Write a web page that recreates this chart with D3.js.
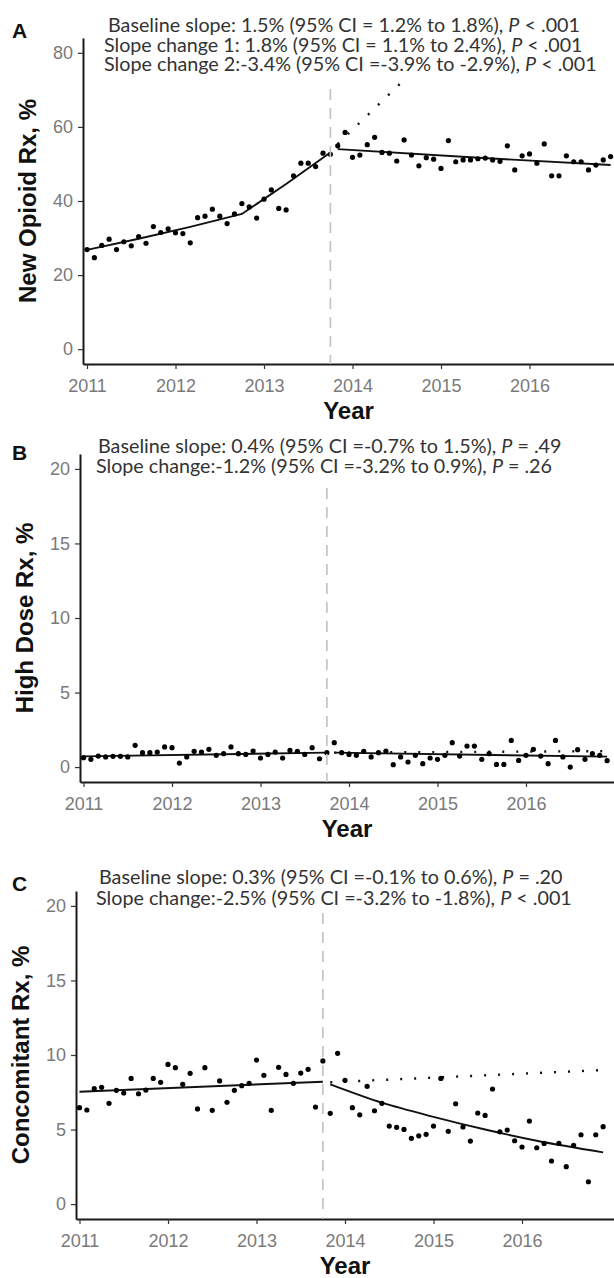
<!DOCTYPE html>
<html>
<head>
<meta charset="utf-8">
<script src="https://cdn.jsdelivr.net/npm/d3@7/dist/d3.min.js"></script>
<style>
    body { margin: 0; background: #fff; }
</style>
</head>
<body>
<script>
// monthly index, 0 = Jan 2011 ... 71 = Dec 2016
var months = d3.range(72);
var yearTicks = [2011, 2012, 2013, 2014, 2015, 2016];
var interventionMonth = 33;

// A - new opioid prescriptions
var newOpioid = [26.9, 24.7, 28.0, 29.7, 26.9, 29.0, 27.9, 30.4, 28.6, 33.1, 31.5, 32.5,
    31.4, 31.2, 28.7, 35.5, 35.9, 37.8, 35.9, 33.9, 36.5, 39.3, 38.4, 35.4,
    40.5, 43.0, 38.0, 37.6, 46.8, 50.2, 50.2, 49.3, 52.9, 52.6, 54.9, 58.5,
    51.8, 52.4, 55.2, 57.2, 53.1, 52.9, 50.8, 56.5, 52.4, 49.5, 51.7, 51.3,
    48.8, 56.3, 50.6, 51.1, 51.1, 51.4, 51.6, 51.1, 50.7, 54.9, 48.4, 52.2,
    52.7, 50.2, 55.4, 46.8, 46.8, 52.2, 50.6, 50.6, 48.4, 49.7, 51.1, 52.0];
var newOpioidPre = [[0, 26.8], [7, 29.8], [14, 33.0], [21, 36.5], [27, 44.6], [33, 53.1]];
var newOpioidPost = [[34, 54.0], [52, 51.8], [71, 49.7]];
var newOpioidCounter = [[34, 55.4], [43, 72.7]];
var newOpioidTicks = [0, 20, 40, 60, 80];
var newOpioidNotes = [
    'Baseline slope: 1.5% (95% CI = 1.2% to 1.8%), |P| < .001',
    'Slope change 1: 1.8% (95% CI = 1.1% to 2.4%), |P| < .001',
    'Slope change 2:-3.4% (95% CI =-3.9% to -2.9%), |P| < .001'
];

// B - high dose prescriptions
var highDose = [0.63, 0.52, 0.74, 0.68, 0.72, 0.72, 0.68, 1.46, 0.97, 0.97, 1.01, 1.35,
    1.30, 0.27, 0.68, 1.06, 1.01, 1.19, 0.79, 0.90, 1.35, 0.90, 0.85, 1.08,
    0.61, 0.85, 1.01, 0.61, 1.12, 1.06, 0.85, 1.30, 0.56, 0.97, 1.64, 0.97,
    0.85, 0.79, 1.06, 0.68, 0.97, 1.08, 0.16, 0.68, 0.34, 0.79, 0.23, 0.61,
    0.52, 0.79, 1.64, 0.74, 1.41, 1.41, 0.52, 0.90, 0.18, 0.18, 1.79, 0.45,
    0.79, 1.19, 0.74, 0.23, 1.79, 0.68, 0.00, 1.17, 0.52, 0.90, 0.79, 0.43];
var highDosePre = [[0, 0.72], [33, 0.97]];
var highDosePost = [[34, 0.97], [71, 0.70]];
var highDoseCounter = [[34, 0.97], [71, 1.07]];
var smallTicks = [0, 5, 10, 15, 20];
var highDoseNotes = [
    'Baseline slope: 0.4% (95% CI =-0.7% to 1.5%), |P| = .49',
    'Slope change:-1.2% (95% CI =-3.2% to 0.9%), |P| = .26'
];

// C - concomitant prescriptions
var concomitant = [6.47, 6.31, 7.74, 7.83, 6.76, 7.63, 7.45, 8.43, 7.40, 7.65, 8.43, 8.17,
    9.37, 9.15, 8.03, 8.77, 6.38, 9.15, 6.29, 8.26, 6.83, 7.63, 7.94, 8.10,
    9.66, 8.64, 6.29, 9.17, 8.70, 8.10, 8.79, 9.04, 6.51, 9.60, 6.09, 10.11,
    8.30, 6.47, 5.99, 7.90, 6.26, 6.76, 5.23, 5.15, 5.01, 4.41, 4.58, 4.68,
    5.23, 8.43, 4.88, 6.73, 5.17, 4.23, 6.11, 5.95, 7.72, 4.85, 4.97, 4.25,
    3.83, 5.57, 3.78, 4.07, 2.89, 4.07, 2.51, 3.94, 4.65, 1.50, 4.65, 5.19];
var concomitantPre = [[0, 7.54], [33, 8.21]];
var concomitantPost = [[34, 8.03], [41, 6.80], [48, 5.85], [55, 5.00], [62, 4.25], [71, 3.47]];
var concomitantCounter = [[34, 8.17], [71, 8.99]];
var concomitantNotes = [
    'Baseline slope: 0.3% (95% CI =-0.1% to 0.6%), |P| = .20',
    'Slope change:-2.5% (95% CI =-3.2% to -1.8%), |P| < .001'
];

var WIDTH = 614;
var HEIGHT = 1278;
var PX_PER_YEAR = 88.5;

window.document.addEventListener('DOMContentLoaded', init, false);

function init() {
    var svg = d3.select('body').append('svg')
        .attr('width', WIDTH)
        .attr('height', HEIGHT)
        .style('display', 'block');

    drawPanel(svg, {
        letter: 'A', letterY: 38,
        values: newOpioid, pre: newOpioidPre, post: newOpioidPost, counter: newOpioidCounter,
        preCurve: d3.curveLinear,
        ticks: newOpioidTicks, yDomain: [-4, 84], top: 38, bottom: 364,
        axisX: 83, x2011: 87, titleX: 36, title: 'New Opioid Rx, %',
        vlineTop: 89, notes: newOpioidNotes,
        noteY: [32, 52, 71], noteX: [[108, 580], [104, 583], [104, 597]]
    });

    drawPanel(svg, {
        letter: 'B', letterY: 460,
        values: highDose, pre: highDosePre, post: highDosePost, counter: highDoseCounter,
        preCurve: d3.curveLinear,
        ticks: smallTicks, yDomain: [-1, 21], top: 454, bottom: 782,
        axisX: 80, x2011: 83.5, titleX: 33, title: 'High Dose Rx, %',
        vlineTop: 488, notes: highDoseNotes,
        noteY: [453, 473], noteX: [[98, 562], [96, 552]]
    });

    drawPanel(svg, {
        letter: 'C', letterY: 891,
        values: concomitant, pre: concomitantPre, post: concomitantPost, counter: concomitantCounter,
        preCurve: d3.curveLinear,
        ticks: smallTicks, yDomain: [-1, 21], top: 891, bottom: 1219,
        axisX: 76, x2011: 79.5, titleX: 29, title: 'Concomitant Rx, %',
        vlineTop: 913, notes: concomitantNotes,
        noteY: [884, 905], noteX: [[99, 563], [96, 572]]
    });
}

function monthToYear(m) {
    return 2011 + m / 12;
}

function drawPanel(svg, p) {
    var x = d3.scaleLinear()
        .domain([2011 - (p.x2011 - p.axisX) / PX_PER_YEAR, 2011 + (WIDTH - p.x2011) / PX_PER_YEAR])
        .range([p.axisX, WIDTH]);
    var y = d3.scaleLinear()
        .domain(p.yDomain)
        .range([p.bottom, p.top]);

    var g = svg.append('g');

    putAxes(g, p, x, y);

    var line = d3.line()
        .x((d) => x(monthToYear(d[0])))
        .y((d) => y(d[1]));

    // counterfactual trend
    g.append('path')
        .attr('fill', 'none')
        .attr('stroke', '#111')
        .attr('stroke-width', 2.4)
        .attr('stroke-dasharray', '2,12')
        .attr('d', line.curve(d3.curveLinear)(p.counter));

    g.append('path')
        .attr('fill', 'none')
        .attr('stroke', '#111')
        .attr('stroke-width', 1.9)
        .attr('d', line.curve(p.preCurve)(p.pre));

    g.append('path')
        .attr('fill', 'none')
        .attr('stroke', '#111')
        .attr('stroke-width', 1.9)
        .attr('d', line.curve(d3.curveMonotoneX)(p.post));

    g.selectAll('.pt')
        .data(months)
        .enter()
            .append('circle')
            .attr('class', 'pt')
            .attr('cx', (m) => x(monthToYear(m)))
            .attr('cy', (m) => y(p.values[m]))
            .attr('r', 2.6)
            .attr('fill', '#000');

    // intervention line
    g.append('line')
        .attr('x1', x(monthToYear(interventionMonth)))
        .attr('x2', x(monthToYear(interventionMonth)))
        .attr('y1', p.vlineTop)
        .attr('y2', p.bottom)
        .attr('stroke', '#c4c4c4')
        .attr('stroke-width', 1.7)
        .attr('stroke-dasharray', '11,8');

    putNotes(g, p);

    g.append('text')
        .attr('x', 12)
        .attr('y', p.letterY)
        .attr('font-family', 'Liberation Sans, Arial, sans-serif')
        .attr('font-weight', 'bold')
        .attr('font-size', 21)
        .attr('fill', '#111')
        .text(p.letter);
}

function putAxes(g, p, x, y) {
    var xAxis = g.append('g')
        .attr('transform', `translate(0,${p.bottom})`)
        .call(d3.axisBottom(x)
            .tickValues(yearTicks)
            .tickFormat(d3.format('d'))
            .tickSize(5)
            .tickSizeOuter(0)
            .tickPadding(10));

    var yAxis = g.append('g')
        .attr('transform', `translate(${p.axisX},0)`)
        .call(d3.axisLeft(y)
            .tickValues(p.ticks)
            .tickSize(5)
            .tickSizeOuter(0)
            .tickPadding(5));

    [xAxis, yAxis].forEach((a) => {
        a.select('.domain').attr('stroke', '#1a1a1a').attr('stroke-width', 2);
        a.selectAll('.tick line').attr('stroke', '#333').attr('stroke-width', 1.2);
        a.selectAll('.tick text')
            .attr('fill', '#7a7a7a')
            .attr('font-family', 'Liberation Sans, Arial, sans-serif')
            .attr('font-size', 18);
    });

    g.append('text')
        .attr('x', (p.axisX + WIDTH) / 2)
        .attr('y', p.bottom + 55)
        .attr('text-anchor', 'middle')
        .attr('font-family', 'Liberation Sans, Arial, sans-serif')
        .attr('font-weight', 'bold')
        .attr('font-size', 24)
        .attr('fill', '#111')
        .text('Year');

    g.append('text')
        .attr('transform', `translate(${p.titleX},${(p.top + p.bottom) / 2}) rotate(-90)`)
        .attr('text-anchor', 'middle')
        .attr('font-family', 'Liberation Sans, Arial, sans-serif')
        .attr('font-weight', 'bold')
        .attr('font-size', 24)
        .attr('fill', '#111')
        .text(p.title);
}

function putNotes(g, p) {
    p.notes.forEach((note, i) => {
        var parts = note.split('|');
        var t = g.append('text')
            .attr('x', p.noteX[i][0])
            .attr('y', p.noteY[i])
            .attr('font-family', 'Lato, Open Sans, sans-serif')
            .attr('font-size', 18)
            .attr('fill', '#333');
        t.append('tspan').text(parts[0]);
        t.append('tspan').attr('font-style', 'italic').text(parts[1]);
        t.append('tspan').text(parts[2]);

        // fit the line to the width it has in the figure
        var len = t.node().getComputedTextLength();
        var want = p.noteX[i][1] - p.noteX[i][0];
        t.attr('font-size', 18 * want / len);
    });
}
</script>
</body>
</html>
